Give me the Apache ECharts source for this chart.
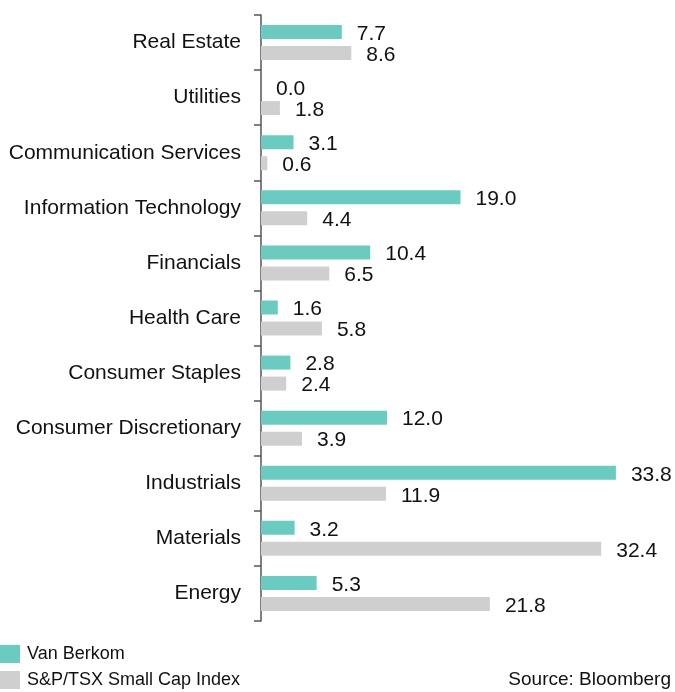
<!DOCTYPE html>
<html><head><meta charset="utf-8">
<script src="https://cdn.jsdelivr.net/npm/echarts@6/dist/echarts.min.js"></script>
<style>html,body{margin:0;padding:0;background:#fff}#c{width:675px;height:692px}</style>
</head><body><div id="c"></div>
<script>
const categories = ["Real Estate","Utilities","Communication Services","Information Technology","Financials","Health Care","Consumer Staples","Consumer Discretionary","Industrials","Materials","Energy"];
const vanBerkom = [7.7,0.0,3.1,19.0,10.4,1.6,2.8,12.0,33.8,3.2,5.3];
const smallCap = [8.6,1.8,0.6,4.4,6.5,5.8,2.4,3.9,11.9,32.4,21.8];
const seriesNames = ["Van Berkom","S&P/TSX Small Cap Index"];
const sourceText = "Source: Bloomberg";

const FONT = '"Liberation Sans", sans-serif';
const chart = echarts.init(document.getElementById('c'), null, {renderer:'canvas'});
const lbl = {show:true, position:'right', distance:15, offset:[0,2], fontFamily:FONT, fontSize:21, color:'#111', formatter:p=>p.value.toFixed(1)};
const legendBase = {orient:'vertical', left:0, itemWidth:20, itemHeight:18, icon:'rect', padding:0,
    textStyle:{fontFamily:FONT, fontSize:18, color:'#111', padding:[0,0,0,2]}};
chart.setOption({
  animation:false,
  textStyle:{fontFamily:FONT},
  grid:{left:261, top:15, height:606, width:367.5, containLabel:false},
  xAxis:{type:'value', min:0, max:35, show:false},
  yAxis:{type:'category', data:categories, inverse:true,
    axisLine:{lineStyle:{color:'#555', width:1.5}},
    axisTick:{show:true, length:7, lineStyle:{color:'#555', width:1.5}},
    axisLabel:{margin:20, fontFamily:FONT, fontSize:21, color:'#111'}},
  legend:[
    Object.assign({}, legendBase, {top:645, data:[seriesNames[0]]}),
    Object.assign({}, legendBase, {top:671, data:[seriesNames[1]]})
  ],
  graphic:[{type:'text', right:4, bottom:3, style:{text:sourceText, font:'19px '+FONT, fill:'#111'}}],
  series:[
    {name:seriesNames[0], type:'bar', data:vanBerkom, barWidth:14, barGap:'50%', itemStyle:{color:'#6CCBC0'}, label:lbl},
    {name:seriesNames[1], type:'bar', data:smallCap, barWidth:14, barGap:'50%', itemStyle:{color:'#D0CFD0'}, label:lbl}
  ]
});
</script></body></html>
